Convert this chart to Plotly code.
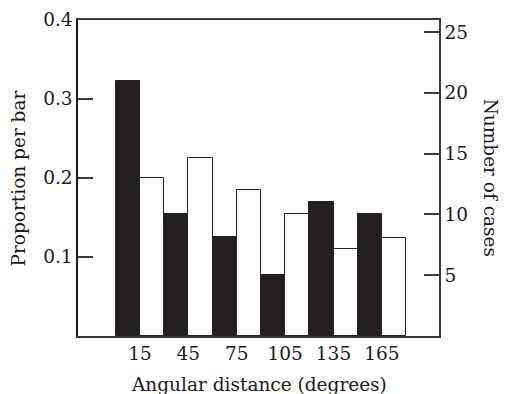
import plotly.graph_objects as go

angles = [15, 45, 75, 105, 135, 165]
tick_labels = ["15", "45", "75", "105", "135", "165"]
black_prop = [0.323, 0.154, 0.125, 0.077, 0.170, 0.155]
white_prop = [0.200, 0.225, 0.185, 0.154, 0.110, 0.124]
left_ticks = [0, 0.1, 0.2, 0.3, 0.4]
left_labels = ["", "0.1", "0.2", "0.3", "0.4"]
right_ticks = [5, 10, 15, 20, 25]
total_cases = 65

FONT = "DejaVu Serif"
LINE = "#3a3a3a"
FS = 18.5

fig = go.Figure()
fig.add_trace(go.Bar(
    x=[a - 7.5 for a in angles], y=black_prop, width=15,
    marker=dict(color="#231f20", line=dict(color="#231f20", width=1)),
    showlegend=False, hoverinfo="skip"))
fig.add_trace(go.Bar(
    x=[a + 7.5 for a in angles], y=white_prop, width=15,
    marker=dict(color="white", line=dict(color="#222222", width=1)),
    showlegend=False, hoverinfo="skip"))
# invisible trace to activate right axis
fig.add_trace(go.Scatter(x=[angles[0]], y=[0], yaxis="y2", mode="markers",
                         marker=dict(opacity=0), showlegend=False, hoverinfo="skip"))

fig.update_layout(
    width=505, height=394,
    margin=dict(l=78, r=66, t=20, b=58),
    paper_bgcolor="white", plot_bgcolor="white",
    barmode="overlay", bargap=0,
    font=dict(family=FONT, size=FS, color="#1a1a1a"),
    xaxis=dict(range=[-23.4, 200.4], tickvals=angles, ticktext=tick_labels,
               showgrid=False, zeroline=False, ticks="", automargin=False,
               showline=True, linecolor=LINE, linewidth=1.5, mirror=True,
               tickfont=dict(size=FS)),
    yaxis=dict(range=[0, 0.4], tickvals=left_ticks, ticktext=left_labels,
               showgrid=False, zeroline=False, ticks="inside", ticklen=15,
               tickcolor=LINE, tickwidth=1.5, automargin=False,
               showline=True, linecolor="#1a1a1a", linewidth=1.5,
               tickfont=dict(size=FS)),
    yaxis2=dict(range=[0, 0.4 * total_cases], overlaying="y", side="right",
                tickvals=right_ticks, showgrid=False, zeroline=False,
                ticks="inside", ticklen=15, tickcolor=LINE, tickwidth=1.5,
                showline=True, linecolor=LINE, linewidth=1.5, automargin=False,
                tickfont=dict(size=FS)),
    annotations=[
        dict(text="Angular distance (degrees)", x=0.5, y=-0.115, xref="paper",
             yref="paper", xanchor="center", yanchor="top", showarrow=False,
             font=dict(size=FS)),
        dict(text="Proportion per bar", x=-0.165, y=0.5, xref="paper",
             yref="paper", xanchor="center", yanchor="middle", textangle=-90,
             showarrow=False, font=dict(size=FS)),
        dict(text="Number of cases", x=1.145, y=0.5, xref="paper",
             yref="paper", xanchor="center", yanchor="middle", textangle=90,
             showarrow=False, font=dict(size=FS)),
    ],
)

fig.write_html("out.html", config={"displayModeBar": False},
               post_script="document.body.style.margin='0';document.body.style.overflow='hidden';")
